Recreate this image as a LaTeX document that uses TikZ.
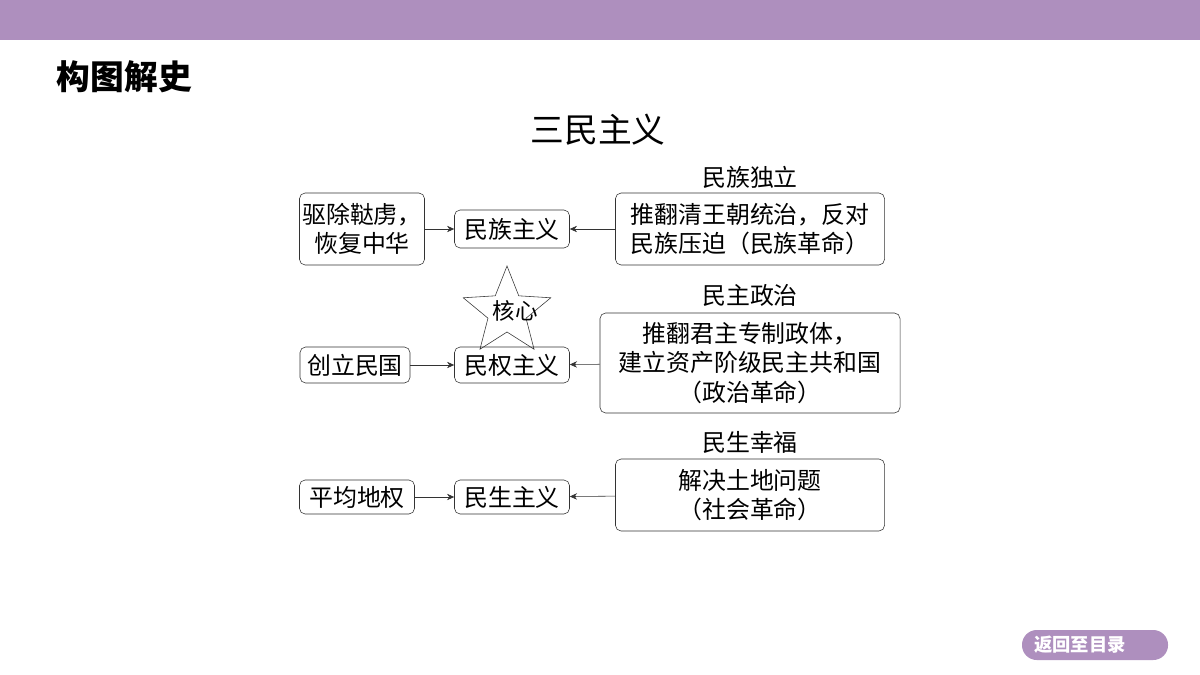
\documentclass[tikz,border=0pt]{standalone}
\usepackage{fontspec}
\setmainfont{Noto Sans CJK SC}
\usetikzlibrary{shapes.geometric, arrows.meta}
\definecolor{barpurple}{HTML}{AE8FBE}
\tikzset{>={Stealth[width=1.6mm,length=1.8mm]}}

\begin{document}
\begin{tikzpicture}[x=0.025cm, y=-0.025cm,
  box/.style={draw=black!80, rounded corners=4pt, thin, align=center, font=\fontsize{17}{21}\selectfont, inner sep=1pt},
  toplabel/.style={font=\fontsize{17}{21}\selectfont},
  conn/.style={->, black!80, thin}]
    \useasboundingbox (0,0) rectangle (1200,675);
    \fill[barpurple] (0,0) rectangle (1200,40);
    \node[anchor=west, font=\fontsize{24}{28}\selectfont\bfseries](heading) at (52,77){构图解史};
    \node[font=\fontsize{24}{28}\selectfont](title) at (598,130){三民主义};

    %Nodes
    \node[box, minimum width=3.125cm, minimum height=1.8cm](nation_l) at (362,229){驱除鞑虏，\\恢复中华};
    \node[box, minimum width=2.875cm, minimum height=0.95cm](nation) at (512,229){民族主义};
    \node[box, minimum width=6.725cm, minimum height=1.8cm](nation_r) at (750,229){推翻清王朝统治，反对\\民族压迫（民族革命）};
    \node[toplabel](nation_t) at (750,177){民族独立};

    \node[box, minimum width=2.75cm, minimum height=0.9cm](rights_l) at (355,365){创立民国};
    \node[box, minimum width=2.875cm, minimum height=0.9cm](rights) at (512,365){民权主义};
    \node[box, minimum width=7.5cm, minimum height=2.5cm](rights_r) at (750,363){推翻君主专制政体，\\建立资产阶级民主共和国\\（政治革命）};
    \node[toplabel](rights_t) at (750,295){民主政治};
    \node[star, star points=5, star point ratio=2.3, draw=black!80, thin, minimum size=2.3cm, inner sep=0pt](core) at (507,312){};
    \node[font=\fontsize{16}{18}\selectfont](core_text) at (515,311){核心};

    \node[fill=barpurple, rounded corners=0.37cm, minimum width=3.65cm, minimum height=0.75cm](back) at (1095,645){};
    \node[text=white, font=\fontsize{13}{15}\selectfont\bfseries](back_text) at (1080,645){返回至目录};

    \node[box, minimum width=2.875cm, minimum height=0.85cm](live_l) at (357,497){平均地权};
    \node[box, minimum width=2.875cm, minimum height=0.85cm](live) at (512,497){民生主义};
    \node[box, minimum width=6.725cm, minimum height=1.8cm](live_r) at (750,495){解决土地问题\\（社会革命）};
    \node[toplabel](live_t) at (750,442){民生幸福};

    %Lines
    \draw[conn] (nation_l) -- (nation);
    \draw[conn] (nation_r) -- (nation);
    \draw[conn] (rights_l) -- (rights);
    \draw[conn] (rights_r) -- (rights);
    \draw[conn] (live_l) -- (live);
    \draw[conn] (live_r) -- (live);
\end{tikzpicture}
\end{document}
